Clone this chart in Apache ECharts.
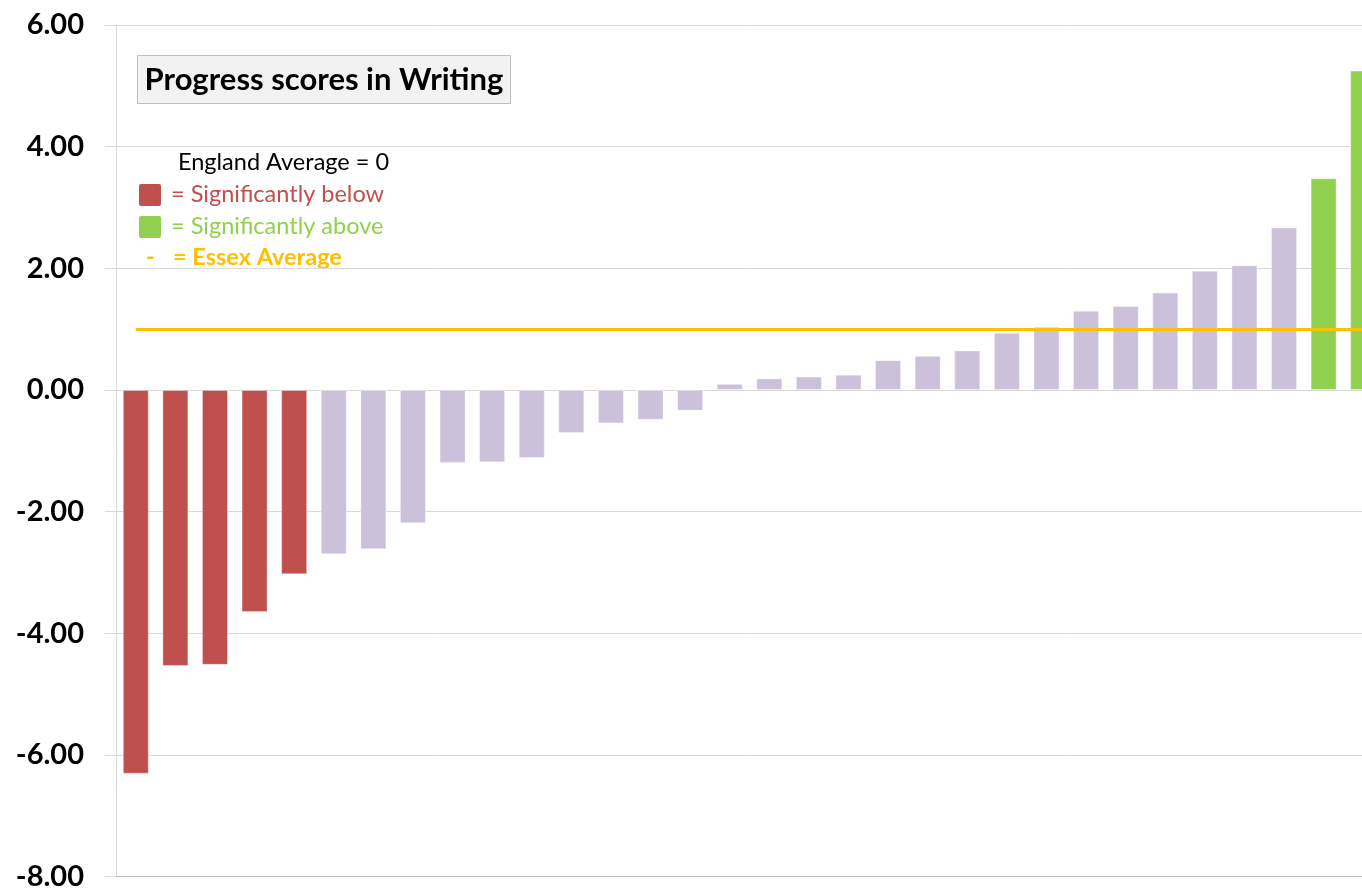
<!DOCTYPE html>
<html>
<head>
<meta charset="utf-8">
<title>Progress scores in Writing</title>
<script src="https://cdn.jsdelivr.net/npm/echarts@6/dist/echarts.min.js"></script>
<style>
  html, body { margin: 0; padding: 0; background: #ffffff; overflow: hidden; }
  /* the plot runs slightly past the right edge of the window, so the last bar is cut */
  #chart { width: 1383px; height: 891px; }
</style>
</head>
<body>
<div id="chart"></div>
<script>
// Schools, ordered from lowest to highest progress score
const schools = [
  'S01', 'S02', 'S03', 'S04', 'S05', 'S06', 'S07', 'S08',
  'S09', 'S10', 'S11', 'S12', 'S13', 'S14', 'S15', 'S16',
  'S17', 'S18', 'S19', 'S20', 'S21', 'S22', 'S23', 'S24',
  'S25', 'S26', 'S27', 'S28', 'S29', 'S30', 'S31', 'S32'
];

// Writing progress score per school
const scores = [
  -6.31, -4.54, -4.52, -3.65, -3.03, -2.70, -2.62, -2.19,
  -1.20, -1.19, -1.12, -0.71, -0.55, -0.49, -0.34, 0.10,
  0.19, 0.22, 0.25, 0.49, 0.56, 0.65, 0.94, 1.04,
  1.30, 1.38, 1.60, 1.96, 2.05, 2.67, 3.48, 5.25
];

// Significance against the England average (0)
const significance = [
  'below', 'below', 'below', 'below', 'below', 'none', 'none', 'none',
  'none', 'none', 'none', 'none', 'none', 'none', 'none', 'none',
  'none', 'none', 'none', 'none', 'none', 'none', 'none', 'none',
  'none', 'none', 'none', 'none', 'none', 'none', 'above', 'above'
];

// Essex average progress score
const essexAverage = 0.99;

// Value axis range
const yMin = -8;
const yMax = 6;
const yStep = 2;

const colours = {
  below: '#C0504D',
  none: '#CCC1DA',
  above: '#92D050',
  essex: '#FFC000'
};

const uiFont = 'Lato, "Open Sans", "Liberation Sans", sans-serif';
const legendFont = '23.5px ' + uiFont;

const chart = echarts.init(document.getElementById('chart'), null, { renderer: 'canvas' });

const barData = scores.map((v, i) => ({
  value: v,
  itemStyle: { color: colours[significance[i]] }
}));

chart.setOption({
  animation: false,
  backgroundColor: '#ffffff',
  grid: { left: 116, right: 0, top: 25, bottom: 12, containLabel: false },
  xAxis: {
    type: 'category',
    data: schools,
    boundaryGap: true,
    axisLine: { show: true, onZero: false, lineStyle: { color: '#bfbfbf', width: 1 } },
    axisTick: { show: false },
    axisLabel: { show: false },
    splitLine: { show: false }
  },
  yAxis: {
    type: 'value',
    min: yMin,
    max: yMax,
    interval: yStep,
    axisLine: { show: true, lineStyle: { color: '#d9d9d9', width: 1 } },
    axisTick: { show: true, length: 11, lineStyle: { color: '#d9d9d9', width: 1 } },
    splitLine: { show: true, lineStyle: { color: '#d9d9d9', width: 1 } },
    axisLabel: {
      margin: 32,
      color: '#000000',
      fontFamily: uiFont,
      fontWeight: 'bold',
      fontSize: 29,
      formatter: v => v.toFixed(2)
    }
  },
  series: [
    {
      name: 'Progress score',
      type: 'bar',
      data: barData,
      barWidth: 26,
      itemStyle: { borderColor: 'rgba(255,255,255,0.35)', borderWidth: 1 },
      markLine: {
        silent: true,
        symbol: ['none', 'none'],
        label: { show: false },
        lineStyle: { color: colours.essex, width: 3, type: 'solid' },
        data: [[
          { coord: [schools[0], essexAverage] },
          { coord: [schools[schools.length - 1], essexAverage] }
        ]]
      }
    }
  ],
  graphic: [
    {
      type: 'group',
      left: 137,
      top: 55,
      children: [
        {
          type: 'rect',
          shape: { x: 0, y: 0, width: 373, height: 48 },
          style: { fill: '#f2f2f2', stroke: '#bfbfbf', lineWidth: 1 }
        },
        {
          type: 'text',
          x: 186.5,
          y: 24,
          style: {
            text: 'Progress scores in Writing',
            font: 'bold 31px ' + uiFont,
            fill: '#000000',
            align: 'center',
            verticalAlign: 'middle'
          }
        }
      ]
    },
    {
      type: 'text',
      x: 178,
      y: 162,
      style: {
        text: 'England Average = 0',
        font: legendFont,
        fill: '#000000',
        verticalAlign: 'middle'
      }
    },
    {
      type: 'rect',
      shape: { x: 139, y: 184, width: 22, height: 22, r: 2 },
      style: { fill: colours.below }
    },
    {
      type: 'text',
      x: 171,
      y: 194,
      style: {
        text: '= Significantly below',
        font: legendFont,
        fill: colours.below,
        verticalAlign: 'middle'
      }
    },
    {
      type: 'rect',
      shape: { x: 139, y: 216, width: 22, height: 22, r: 2 },
      style: { fill: colours.above }
    },
    {
      type: 'text',
      x: 171,
      y: 226,
      style: {
        text: '= Significantly above',
        font: legendFont,
        fill: colours.above,
        verticalAlign: 'middle'
      }
    },
    {
      type: 'text',
      x: 146,
      y: 257,
      style: {
        text: '-',
        font: 'bold ' + legendFont,
        fill: colours.essex,
        verticalAlign: 'middle'
      }
    },
    {
      type: 'text',
      x: 173,
      y: 257,
      style: {
        text: '= Essex Average',
        font: 'bold ' + legendFont,
        fill: colours.essex,
        verticalAlign: 'middle'
      }
    }
  ]
});
</script>
</body>
</html>
